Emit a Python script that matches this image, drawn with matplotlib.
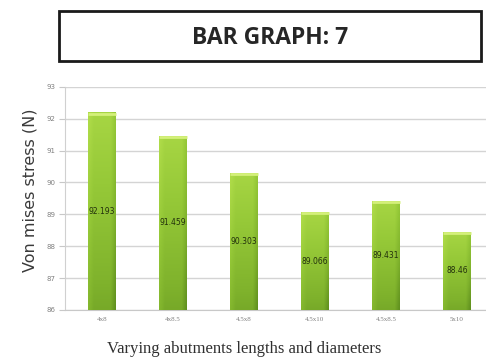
import numpy as np
import matplotlib
matplotlib.use("Agg")
import matplotlib.pyplot as plt
from matplotlib.patches import Rectangle
from matplotlib.colors import LinearSegmentedColormap

# Abutment configurations and the resulting von Mises stress
categories = ["4x8", "4x8.5", "4.5x8", "4.5x10", "4.5x8.5", "5x10"]
stress = [92.193, 91.459, 90.303, 89.066, 89.431, 88.460]
y_ticks = [86, 87, 88, 89, 90, 91, 92, 93]

fig = plt.figure(figsize=(4.86, 3.63), dpi=100)
fig.patch.set_facecolor("white")

# Title box
fig.patches.append(Rectangle((59 / 486, 1 - 61 / 363), (481 - 59) / 486, 50 / 363,
                             transform=fig.transFigure, facecolor="white",
                             edgecolor="#1a1a1a", linewidth=2.0))
fig.text((59 + 481) / 2 / 486, 1 - 38 / 363, "BAR GRAPH: 7", ha="center", va="center",
         fontsize=16.5, fontweight="bold", family="Open Sans", color="#262626")

ax = fig.add_axes([65 / 486, 53 / 363, 1 - 65 / 486, (310 - 86.7) / 363])
ymin, ymax = 86, 93
ax.set_ylim(ymin, ymax)
ax.set_xlim(-0.52, 5.41)

x = np.arange(len(categories))
width = 0.39

cmap = LinearSegmentedColormap.from_list("lime", ["#5f8f1e", "#7fb22c", "#96c938", "#aedb48"])
ny = 200
vert = np.linspace(0, 1, ny)[:, None]
horiz = np.linspace(0, 1, 40)[None, :]
# lighter left edge, darker right edge
hshade = 0.15 * np.clip(1 - horiz / 0.2, 0, 1) - 0.25 * np.clip((horiz - 0.82) / 0.18, 0, 1)

bars = ax.bar(x, [v - ymin for v in stress], width=width, bottom=ymin,
              color="#8cc43a", edgecolor="none", zorder=2)
for rect, v in zip(bars, stress):
    x0 = rect.get_x()
    grad = np.clip(0.25 + 0.65 * vert + hshade, 0, 1)
    im = ax.imshow(grad, cmap=cmap, vmin=0, vmax=1, origin="lower", aspect="auto",
                   extent=(x0, x0 + width, ymin, v), zorder=3, interpolation="bilinear")
    im.set_clip_path(rect)
    # light cap on top of each bar
    ax.plot([x0, x0 + width], [v - 0.04, v - 0.04], color="#d4f07a", lw=2.0,
            zorder=4, solid_capstyle="butt")
    ax.text(rect.get_x() + width / 2, (ymin + v) / 2, f"{v:.3f}".rstrip("0"),
            ha="center", va="center", fontsize=5.5, color="#22300c", zorder=5)

ax.set_xticks(x)
ax.set_xticklabels(categories, fontsize=5, color="#808080", family="Liberation Serif")
ax.set_yticks(y_ticks)
ax.set_yticklabels([str(t) for t in y_ticks], fontsize=5, color="#808080")
ax.tick_params(axis="y", length=4, color="#c8c8c8", pad=3)
ax.tick_params(axis="x", length=0, pad=5)
ax.grid(axis="y", color="#d4d4d4", linewidth=1.0, zorder=0)
ax.set_axisbelow(True)
for side in ("top", "right"):
    ax.spines[side].set_visible(False)
ax.spines["left"].set_color("#d0d0d0")
ax.spines["bottom"].set_color("#c8c8c8")

fig.text(30 / 486, 1 - 190 / 363, "Von mises stress (N)", rotation=90, ha="center",
         va="center", fontsize=11.5, color="#3a3a3a")
fig.text(244 / 486, 1 - 349 / 363, "Varying abutments lengths and diameters",
         ha="center", va="center", fontsize=12, family="Liberation Serif", color="#303030")

fig.savefig("out.png", dpi=100)
